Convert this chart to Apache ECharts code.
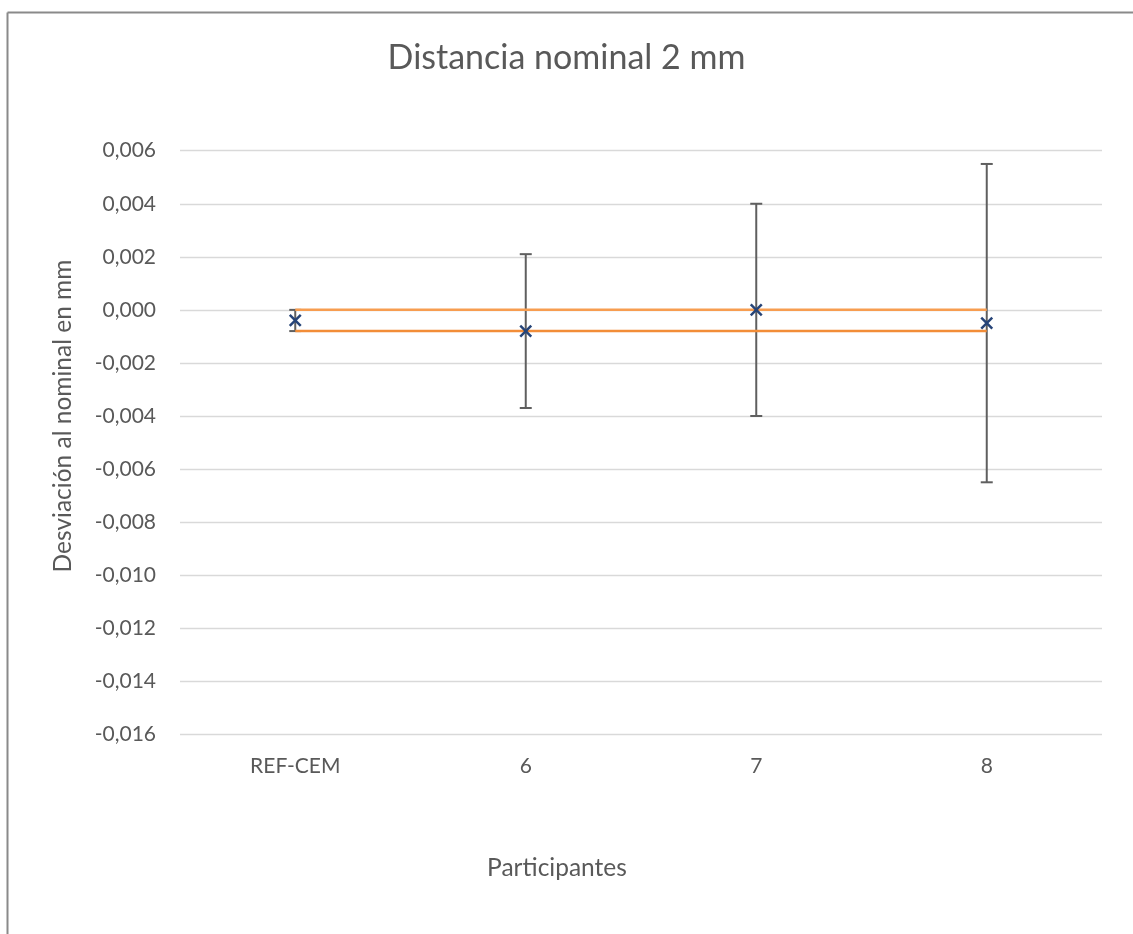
<!DOCTYPE html>
<html>
<head>
<meta charset="utf-8">
<script src="https://cdn.jsdelivr.net/npm/echarts@6/dist/echarts.min.js"></script>
<style>html,body{margin:0;padding:0;background:#fff}#c{width:1133px;height:934px}</style>
</head>
<body>
<div id="c"></div>
<script>
const categories = ['REF-CEM', '6', '7', '8'];
const values = [-0.0004, -0.0008, 0.0000, -0.0005];
const errUp = [0.0004, 0.0029, 0.0040, 0.0060];
const errDown = [0.0004, 0.0029, 0.0040, 0.0060];
const refUpper = [0.0000, 0.0000, 0.0000, 0.0000];
const refLower = [-0.0008, -0.0008, -0.0008, -0.0008];
const yMin = -0.016, yMax = 0.006, yStep = 0.002;
const titleText = 'Distancia nominal 2 mm';
const xName = 'Participantes';
const yName = 'Desviación al nominal en mm';

const FONT = 'Lato';
const TXT = '#595959';
const chart = echarts.init(document.getElementById('c'));
const errData = categories.map((c, i) => [i, values[i], values[i] + errUp[i], values[i] - errDown[i]]);

chart.setOption({
  animation: false,
  backgroundColor: '#fff',
  title: {
    text: titleText, left: 'center', top: 36,
    textStyle: { fontFamily: FONT, fontSize: 34, fontWeight: 'normal', color: TXT }
  },
  grid: { left: 180, right: 31, top: 150.7, bottom: 199.7 },
  xAxis: {
    type: 'category', data: categories, boundaryGap: true,
    axisLine: { show: false }, axisTick: { show: false },
    axisLabel: { fontFamily: FONT, fontSize: 21, color: TXT, margin: 21 }
  },
  yAxis: {
    type: 'value', min: yMin, max: yMax, interval: yStep,
    axisLine: { show: false }, axisTick: { show: false },
    splitLine: { lineStyle: { color: '#d9d9d9', width: 1.3 } },
    axisLabel: {
      fontFamily: FONT, fontSize: 21, color: TXT, margin: 24,
      formatter: v => (Math.abs(v) < 1e-9 ? 0 : v).toFixed(3).replace('.', ',')
    }
  },
  series: [
    {
      type: 'custom', z: 2,
      data: errData,
      renderItem: (params, api) => {
        const x = api.value(0);
        const hi = api.coord([x, api.value(2)]);
        const lo = api.coord([x, api.value(3)]);
        const cw = 6;
        const st = { stroke: '#5f5f5f', lineWidth: 2 };
        return {
          type: 'group', children: [
            { type: 'line', shape: { x1: hi[0], y1: hi[1], x2: lo[0], y2: lo[1] }, style: st },
            { type: 'line', shape: { x1: hi[0] - cw, y1: hi[1], x2: hi[0] + cw, y2: hi[1] }, style: st },
            { type: 'line', shape: { x1: lo[0] - cw, y1: lo[1], x2: lo[0] + cw, y2: lo[1] }, style: st }
          ]
        };
      }
    },
    {
      type: 'line', data: refUpper, symbol: 'none', z: 3,
      lineStyle: { color: '#f79d50', width: 2.5 }
    },
    {
      type: 'line', data: refLower, symbol: 'none', z: 3,
      lineStyle: { color: '#f28d38', width: 2.5 }
    },
    {
      type: 'custom', z: 5,
      data: values.map((v, i) => [i, v]),
      renderItem: (params, api) => {
        const p = api.coord([api.value(0), api.value(1)]);
        const s = 5.5;
        const st = { stroke: '#264478', lineWidth: 2.5 };
        return {
          type: 'group', children: [
            { type: 'line', shape: { x1: p[0] - s, y1: p[1] - s, x2: p[0] + s, y2: p[1] + s }, style: st },
            { type: 'line', shape: { x1: p[0] - s, y1: p[1] + s, x2: p[0] + s, y2: p[1] - s }, style: st }
          ]
        };
      }
    }
  ],
  graphic: [
    { type: 'line', shape: { x1: 7.5, y1: 12.5, x2: 1133, y2: 12.5 }, style: { stroke: '#8a8a8a', lineWidth: 2 } },
    { type: 'line', shape: { x1: 7.5, y1: 12.5, x2: 7.5, y2: 934 }, style: { stroke: '#8a8a8a', lineWidth: 2 } },
    {
      type: 'text', x: 557, y: 868,
      style: { text: xName, fontFamily: FONT, fontSize: 24.5, fill: TXT, align: 'center', verticalAlign: 'middle' }
    },
    {
      type: 'text', x: 63, y: 416, rotation: Math.PI / 2,
      style: { text: yName, fontFamily: FONT, fontSize: 24.5, fill: TXT, align: 'center', verticalAlign: 'middle' }
    }
  ]
});
</script>
</body>
</html>
